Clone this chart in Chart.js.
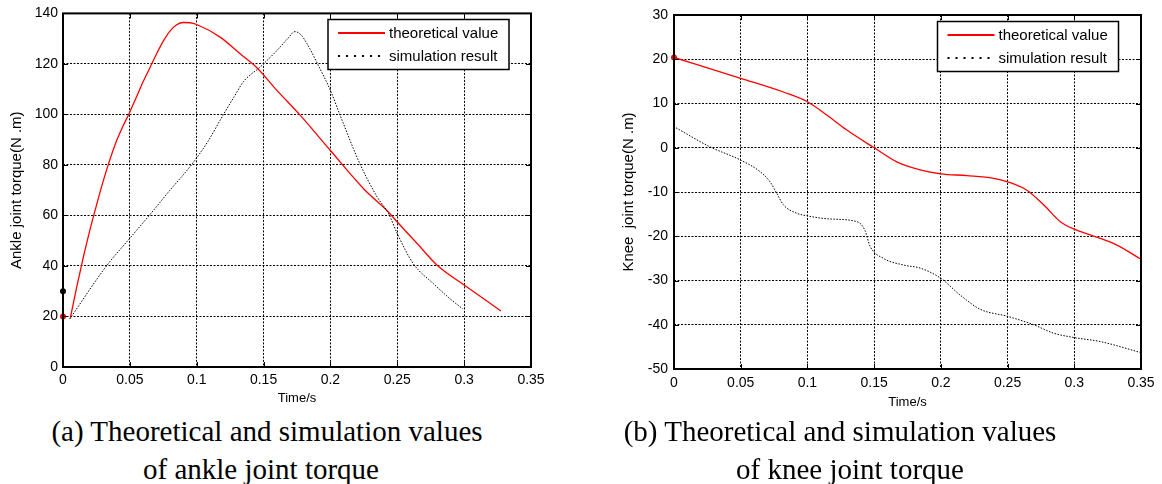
<!DOCTYPE html>
<html>
<head>
<meta charset="utf-8">
<script src="https://cdn.jsdelivr.net/npm/chart.js@4/dist/chart.umd.min.js"></script>
<style>
  html, body { margin: 0; padding: 0; background: #fff; }
  body { width: 1162px; height: 484px; position: relative; overflow: hidden; }
  .box { position: absolute; top: 0; }
  .cap { position: absolute; width: 600px; font-family: "Liberation Serif", "Times New Roman", serif; font-size: 29px; line-height: 38px; white-space: nowrap; text-align: center; color: #000; }
</style>
</head>
<body>
<div class="box" style="left:0;width:580px;height:410px;"><canvas id="c1"></canvas></div>
<div class="box" style="left:580px;width:582px;height:414px;"><canvas id="c2"></canvas></div>
<div class="cap" style="left:-33px;top:412px;">(a) Theoretical and simulation values</div>
<div class="cap" style="left:-39px;top:450px;">of ankle joint torque</div>
<div class="cap" style="left:540px;top:412px;">(b) Theoretical and simulation values</div>
<div class="cap" style="left:550px;top:450px;">of knee joint torque</div>
<script>
// ---------- data ----------
const xTickValues = [0, 0.05, 0.1, 0.15, 0.2, 0.25, 0.3, 0.35];
const xTickLabels = ['0', '0.05', '0.1', '0.15', '0.2', '0.25', '0.3', '0.35'];
const ankleYTicks = [0, 20, 40, 60, 80, 100, 120, 140];
const kneeYTicks = [-50, -40, -30, -20, -10, 0, 10, 20, 30];
const legendLabels = ['theoretical value', 'simulation result'];

const ankleTheoT = [0.0055, 0.01, 0.015, 0.02, 0.025, 0.03, 0.035, 0.04, 0.045, 0.05, 0.055, 0.06, 0.065, 0.07, 0.075, 0.08, 0.085, 0.09, 0.095, 0.1, 0.1175, 0.1325, 0.145, 0.16, 0.1775, 0.2, 0.225, 0.2435, 0.25, 0.265, 0.28, 0.3, 0.3275];
const ankleTheoV = [19.4, 31, 43, 54, 64, 73.5, 82, 89.5, 95.5, 101, 107, 113, 118.5, 124, 129, 133, 135.5, 136.4, 136.3, 135.6, 130.6, 124, 118.5, 109.5, 99.6, 85.7, 70.5, 61.3, 57.4, 48.8, 40.2, 32.5, 22.2];
const ankleSimT = [0.005, 0.0325, 0.05, 0.0645, 0.08, 0.096, 0.108, 0.12, 0.128, 0.135, 0.1475, 0.16, 0.168, 0.1735, 0.178, 0.1825, 0.19, 0.2, 0.207, 0.222, 0.235, 0.2435, 0.25, 0.262, 0.277, 0.2895, 0.299];
const ankleSimV = [19, 40, 51, 60, 70, 80, 89, 100, 107, 113, 118.8, 125.3, 130, 132.8, 131.5, 128, 120.4, 109.5, 100, 80.5, 67.3, 60.7, 52.8, 40.9, 33, 27, 23];
const ankleMarkT = [0, 0];
const ankleMarkV = [20, 30];
const ankleMarkC = ['#ff0000', '#000000'];

const kneeTheoT = [0, 0.05, 0.082, 0.1, 0.1145, 0.1295, 0.15, 0.167, 0.1845, 0.2, 0.2195, 0.2395, 0.25, 0.2645, 0.277, 0.2895, 0.3, 0.312, 0.332, 0.35];
const kneeTheoV = [20.4, 15.7, 12.6, 10.4, 7.4, 4, 0, -3.2, -5, -5.9, -6.3, -6.9, -7.7, -9.6, -12.9, -16.7, -18.4, -19.7, -22, -25.2];
const kneeSimT = [0.0015, 0.027, 0.05, 0.0645, 0.072, 0.077, 0.082, 0.092, 0.1, 0.117, 0.137, 0.143, 0.147, 0.157, 0.172, 0.1845, 0.2, 0.2145, 0.2295, 0.25, 0.2695, 0.2845, 0.3, 0.3195, 0.35];
const kneeSimV = [4.5, 0.2, -2.8, -5.4, -7.7, -10.3, -12.9, -14.8, -15.4, -16.1, -16.7, -18.6, -22.3, -25, -26.5, -27.2, -29.5, -33.3, -36.5, -38.1, -40, -41.9, -42.9, -43.8, -46.3];
const kneeMarkT = [0];
const kneeMarkV = [20.4];
const kneeMarkC = ['#ff0000'];

// ---------- helpers ----------
const pts = (t, v) => t.map((x, i) => ({ x: x, y: v[i] }));
const FONT = '"Liberation Sans", Arial, sans-serif';

function framePlugin(legendBox) {
  return {
    id: 'frame',
    afterDraw(chart) {
      const { ctx, chartArea: a, scales: { x, y } } = chart;
      ctx.save();
      ctx.strokeStyle = '#000';
      ctx.lineWidth = 1;
      ctx.setLineDash([]);
      ctx.beginPath();
      xTickValues.forEach(v => {
        const px = Math.round(x.getPixelForValue(v)) + 0.5;
        ctx.moveTo(px, a.bottom); ctx.lineTo(px, a.bottom - 5);
        ctx.moveTo(px, a.top); ctx.lineTo(px, a.top + 5);
      });
      y.ticks.forEach(t => {
        const py = Math.round(y.getPixelForValue(t.value)) + 0.5;
        ctx.moveTo(a.left, py); ctx.lineTo(a.left + 5, py);
        ctx.moveTo(a.right, py); ctx.lineTo(a.right - 5, py);
      });
      ctx.stroke();
      const L = legendBox;
      ctx.fillStyle = '#fff';
      ctx.fillRect(L.x, L.y, L.w, L.h);
      ctx.lineWidth = 1.5;
      ctx.strokeRect(L.x, L.y, L.w, L.h);
      ctx.strokeStyle = '#ff0000';
      ctx.lineWidth = 2;
      ctx.beginPath(); ctx.moveTo(L.x + 10, L.y + 13.5); ctx.lineTo(L.x + 57, L.y + 13.5); ctx.stroke();
      ctx.strokeStyle = '#000';
      ctx.setLineDash([2, 6]);
      ctx.beginPath(); ctx.moveTo(L.x + 10, L.y + 36.5); ctx.lineTo(L.x + 57, L.y + 36.5); ctx.stroke();
      ctx.setLineDash([]);
      ctx.fillStyle = '#000';
      ctx.font = '15px ' + FONT;
      ctx.textBaseline = 'middle';
      ctx.textAlign = 'left';
      ctx.fillText(legendLabels[0], L.x + 61, L.y + 14);
      ctx.fillText(legendLabels[1], L.x + 61, L.y + 37);
      ctx.strokeStyle = '#000';
      ctx.lineWidth = 2;
      ctx.strokeRect(a.left, a.top, a.right - a.left, a.bottom - a.top);
      ctx.restore();
    }
  };
}

function makeChart(id, cfg) {
  return new Chart(document.getElementById(id), {
    type: 'scatter',
    data: {
      datasets: [
        { data: pts(cfg.theoT, cfg.theoV), showLine: true, borderColor: '#ff0000', borderWidth: 1.3, pointRadius: 0, cubicInterpolationMode: 'monotone', order: 2 },
        { data: pts(cfg.simT, cfg.simV), showLine: true, borderColor: '#000000', borderWidth: 1, borderDash: [1.5, 1.5], pointRadius: 0, cubicInterpolationMode: 'monotone', order: 1 },
        { data: pts(cfg.markT, cfg.markV), showLine: false, pointRadius: 3, pointBackgroundColor: cfg.markC, pointBorderColor: cfg.markC, pointBorderWidth: 0, clip: false, order: 0 }
      ]
    },
    options: {
      responsive: true,
      maintainAspectRatio: false,
      animation: false,
      events: [],
      layout: { padding: cfg.pad },
      plugins: { legend: { display: false }, tooltip: { enabled: false } },
      scales: {
        x: {
          type: 'linear', min: 0, max: 0.35,
          afterFit: s => { s.height = cfg.xH; },
          afterBuildTicks: s => { s.ticks = xTickValues.map(v => ({ value: v })); },
          grid: { color: '#000', lineWidth: 1, drawTicks: false },
          border: { display: false, dash: [2, 1.5] },
          ticks: { color: '#000', font: { family: FONT, size: 14 }, padding: cfg.xPad, maxRotation: 0, autoSkip: false,
                   callback: (v, i) => xTickLabels[i] },
          title: { display: true, text: 'Time/s', color: '#000', font: { family: FONT, size: 13 }, padding: { top: 0, bottom: 4 } }
        },
        y: {
          type: 'linear', min: cfg.yTicks[0], max: cfg.yTicks[cfg.yTicks.length - 1],
          afterFit: s => { s.width = cfg.yW; },
          afterBuildTicks: s => { s.ticks = cfg.yTicks.map(v => ({ value: v })); },
          grid: { color: '#000', lineWidth: 1, drawTicks: false },
          border: { display: false, dash: [2, 1.5] },
          ticks: { color: '#000', font: { family: FONT, size: 14 }, padding: cfg.yPad, autoSkip: false,
                   callback: (v, i) => String(cfg.yTicks[i]) },
          title: { display: true, text: cfg.yTitle, color: '#000', font: { family: FONT, size: 15 }, padding: { top: 3, bottom: 0 } }
        }
      }
    },
    plugins: [framePlugin(cfg.legend)]
  });
}

makeChart('c1', {
  theoT: ankleTheoT, theoV: ankleTheoV, simT: ankleSimT, simV: ankleSimV,
  markT: ankleMarkT, markV: ankleMarkV, markC: ankleMarkC,
  yTicks: ankleYTicks, yTitle: 'Ankle joint torque(N .m)',
  pad: { left: 5, right: 49, top: 13, bottom: 0 }, yW: 58, xH: 43, xPad: 5, yPad: 5,
  legend: { x: 328, y: 19.5, w: 181, h: 50 }
});
makeChart('c2', {
  theoT: kneeTheoT, theoV: kneeTheoV, simT: kneeSimT, simV: kneeSimV,
  markT: kneeMarkT, markV: kneeMarkV, markC: kneeMarkC,
  yTicks: kneeYTicks, yTitle: 'Knee  joint torque(N .m)',
  pad: { left: 37, right: 21, top: 15, bottom: 0 }, yW: 57, xH: 45, xPad: 6, yPad: 6,
  legend: { x: 357.5, y: 21.5, w: 181, h: 50 }
});
</script>
</body>
</html>
